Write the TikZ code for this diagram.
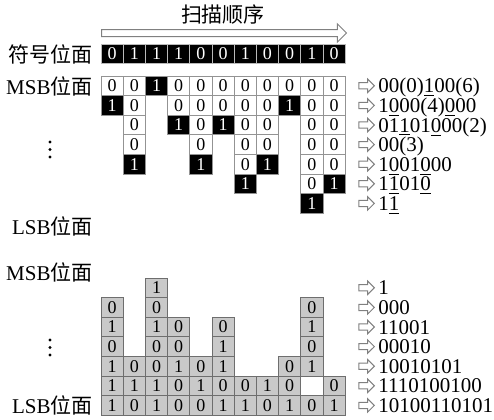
\documentclass[tikz,border=0pt]{standalone}
\usepackage{fontspec}
\setmainfont{Liberation Serif}
\newfontfamily\cjk{Noto Sans CJK SC}
\usepackage{tikz}
\usetikzlibrary{positioning,shapes.arrows}
\definecolor{cellgray}{HTML}{C9C9C9}
\definecolor{edgegray}{HTML}{6E6E6E}

\begin{document}
\begin{tikzpicture}[x=0.5pt,y=-0.5pt,
  lbl/.style={font=\fontsize{10.5}{10.5}\selectfont,inner sep=0pt},
  cell/.style={inner sep=0pt,outer sep=0pt,minimum width=11.1pt,minimum height=9.8pt,
    line width=0.5pt,font=\fontsize{9}{9}\selectfont},
  zero/.style={cell,draw=gray!85,fill=white},
  one/.style={cell,draw=gray!85,fill=black,text=white},
  sgn/.style={cell,minimum height=9.25pt,draw=gray!55,fill=black,text=white},
  bcell/.style={cell,draw=edgegray,fill=cellgray},
  hollowarr/.style={single arrow,draw=gray,fill=white,line width=0.5pt,inner sep=1.3pt,
    single arrow head extend=1.8pt,minimum height=7.8pt},
  rowtext/.style={lbl,anchor=west,text height=8pt,text depth=1pt}]
\useasboundingbox (0,0) rectangle (494,419);

% scan direction
\node[hollowarr,single arrow head extend=2.8pt,inner sep=1.5pt,minimum height=122.5pt,
  anchor=west] (scan) at (101,33) {};
\node[lbl] (scanlbl) at (223,15) {\cjk 扫描顺序};

% labels
\node[lbl,anchor=east] (signlbl) at (93,54) {\cjk 符号位面};
\node[lbl,anchor=east] (msb1) at (93,86) {MSB{\cjk 位面}};
\node[lbl,anchor=east] (lsb1) at (93,226) {LSB{\cjk 位面}};
\node[lbl,anchor=east] (msb2) at (93,272) {MSB{\cjk 位面}};
\node[lbl,anchor=east] (lsb2) at (93,405) {LSB{\cjk 位面}};
\foreach \yy in {142,149.5,157,340,347.5,355}
  \fill (50,\yy) circle (1.6);

% sign plane
\foreach \v [count=\cl] in {0,1,1,1,0,0,1,0,0,1,0}
  \node[sgn] (s\cl) at (89.9+22.2*\cl,54) {\v};

% magnitude planes, scanned (2 = no cell)
\foreach \rowv [count=\rw] in {{0,0,1,0,0,0,0,0,0,0,0},{1,0,2,0,0,0,0,0,1,0,0},
    {2,0,2,1,0,1,0,0,2,0,0},{2,0,2,2,0,2,0,0,2,0,0},{2,1,2,2,1,2,0,1,2,0,0},
    {2,2,2,2,2,2,1,2,2,0,1},{2,2,2,2,2,2,2,2,2,1,2}}
  \foreach \v [count=\cl] in \rowv {
    \ifnum\v=0 \node[zero] (t\rw-\cl) at (89.9+22.2*\cl,66.2+19.6*\rw) {0};\fi
    \ifnum\v=1 \node[one] (t\rw-\cl) at (89.9+22.2*\cl,66.2+19.6*\rw) {1};\fi
  };
\foreach \txt [count=\rw] in {00(0)\underline{1}00(6),1\underline{0}00(4)\underline{0}00,
    01\underline{1}01\underline{0}00(2),00(3),1\underline{0}01\underline{0}00,
    1\underline{1}01\underline{0},1\underline{1}} {
  \node[hollowarr] (ta\rw) at (365,66.2+19.6*\rw) {};
  \node[rowtext] (tr\rw) at ([xshift=1.5pt]ta\rw.east) {\txt};
}

% magnitude planes, original
\foreach \rowv [count=\rw] in {{2,2,1,2,2,2,2,2,2,2,2},{0,2,0,2,2,2,2,2,2,0,2},
    {1,2,1,0,2,0,2,2,2,1,2},{0,2,0,0,2,1,2,2,2,0,2},{1,0,0,1,0,1,2,2,0,1,2},
    {1,1,1,0,1,0,0,1,0,2,0},{1,0,1,0,0,1,1,0,1,0,1}}
  \foreach \v [count=\cl] in \rowv {
    \ifnum\v<2 \node[bcell] (b\rw-\cl) at (89.9+22.2*\cl,268.2+19.6*\rw) {\v};\fi
  };
\foreach \txt [count=\rw] in {1,000,11001,00010,10010101,1110100100,10100110101} {
  \node[hollowarr] (ba\rw) at (365,268.2+19.6*\rw) {};
  \node[rowtext] (br\rw) at ([xshift=1.5pt]ba\rw.east) {\txt};
}
\end{tikzpicture}
\end{document}
